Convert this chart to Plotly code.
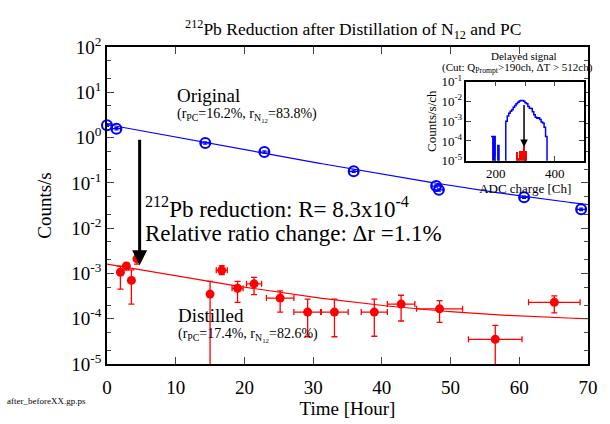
import numpy as np
import plotly.graph_objects as go

# ---------------- data ----------------
orig_t = [0.0, 1.37, 14.3, 22.9, 35.9, 47.9, 48.3, 60.7, 69.0]
orig_rate = [1.88, 1.57, 0.76, 0.48, 0.18, 0.085, 0.070, 0.048, 0.026]
orig_terr = [0.6, 0.6, 0.6, 0.6, 0.6, 0.6, 0.6, 0.6, 0.6]

dist_t = [1.95, 2.82, 3.55, 4.36, 15.0, 16.7, 19.0, 21.4, 25.2, 29.2, 33.1, 38.9, 42.8, 48.4, 56.5, 65.1]
dist_rate = [1.06e-3, 1.45e-3, 7.0e-4, 2.1e-3, 3.5e-4, 1.17e-3, 4.7e-4, 5.9e-4, 2.85e-4,
             1.4e-4, 1.4e-4, 1.4e-4, 2.1e-4, 1.65e-4, 3.5e-5, 2.3e-4]
dist_hi = [1.44e-3, 1.71e-3, 1.2e-3, 2.6e-3, 6.7e-4, 1.49e-3, 6.7e-4, 8.2e-4, 4.1e-4,
           2.7e-4, 2.7e-4, 2.7e-4, 3.3e-4, 2.5e-4, 7.1e-5, 3.2e-4]
dist_lo = [4.5e-4, 1.2e-3, 2.1e-4, 1.6e-3, 1e-7, 9.4e-4, 2.3e-4, 3.4e-4, 1.4e-4,
           4.0e-5, 4.0e-5, 4.1e-5, 8.9e-5, 8.3e-5, 1e-7, 1.34e-4]
dist_terr = [0, 0, 0, 0, 0, 0.8, 0.8, 1.1, 2.0, 2.0, 2.0, 1.9, 2.0, 3.35, 3.9, 3.75]

# fit parameters (A*exp(-t/tau)+C)
orig_fit = dict(A=1.93, tau=15.36, C=0.013)
dist_fit = dict(A=1.52e-3, tau=15.36, C=8.4e-5)

# inset histogram (ADC charge [Ch], Counts/s/ch)
blue_edges = [184, 190, 194, 198, 207, 211, 234, 239, 244, 249, 254, 259, 264, 269, 274, 279, 284,
              289, 294, 299, 304, 309, 314, 319, 324, 329, 334, 339, 344, 349, 354, 359, 364, 369, 374, 379]
blue_vals = [1.7e-4, 1e-7, 1.7e-4, 1e-7, 6e-5, 1e-7, 1.0e-3, 1.8e-3, 2.5e-3, 3.2e-3, 3.8e-3, 5.0e-3,
             6.2e-3, 7.5e-3, 9.0e-3, 1.05e-2, 1.1e-2, 1.1e-2, 1.0e-2, 8.5e-3, 7.5e-3, 5.5e-3, 4.5e-3,
             4.3e-3, 3.0e-3, 2.1e-3, 1.6e-3, 1.4e-3, 1.5e-3, 1.2e-3, 9e-4, 8e-4, 5e-4, 1.7e-4, 1e-7]
red_centers = [273, 279, 285, 291, 297, 303]
red_vals = [3.0e-5, 1.5e-5, 3.3e-5, 3.3e-5, 7.0e-5, 3.3e-5]

main_y_exps = [-5, -4, -3, -2, -1, 0, 1, 2]
inset_y_exps = [-5, -4, -3, -2, -1]

arrow_t = 4.75
arrow_from, arrow_to = 0.96, 1.52e-3
inset_arrow_x = 296
inset_arrow_from, inset_arrow_to = 7.7e-3, 5e-5

FONT = "Liberation Serif"
W, H = 610, 424
L, R, T, B = 107, 21, 47, 51

def px(x, y):
    return (x - L) / (W - L - R), (H - B - y) / (H - T - B)

fig = go.Figure()

tt = np.linspace(0, 70, 200)
fig.add_trace(go.Scatter(x=tt, y=orig_fit["A"] * np.exp(-tt / orig_fit["tau"]) + orig_fit["C"],
                         mode="lines", line=dict(color="#0000ff", width=1.2), hoverinfo="skip"))
fig.add_trace(go.Scatter(x=tt, y=dist_fit["A"] * np.exp(-tt / dist_fit["tau"]) + dist_fit["C"],
                         mode="lines", line=dict(color="#ff0000", width=1.2), hoverinfo="skip"))

fig.add_trace(go.Scatter(
    x=orig_t, y=orig_rate, mode="markers", cliponaxis=False,
    marker=dict(symbol="circle-open", size=10, color="#0000ff", line=dict(width=2)),
    error_x=dict(type="data", array=orig_terr, color="#0000ff", thickness=1.2, width=2),
    error_y=dict(type="percent", value=6, color="#0000ff", thickness=1.2, width=2)))

fig.add_trace(go.Scatter(
    x=dist_t, y=dist_rate, mode="markers",
    marker=dict(symbol="circle", size=9, color="#ff0000"),
    error_x=dict(type="data", array=dist_terr, color="#ff0000", thickness=1.3, width=3),
    error_y=dict(type="data", symmetric=False,
                 array=[h - v for h, v in zip(dist_hi, dist_rate)],
                 arrayminus=[v - l for v, l in zip(dist_rate, dist_lo)],
                 color="#ff0000", thickness=1.3, width=3)))

# inset
fig.add_trace(go.Bar(x=red_centers, y=red_vals, width=6, marker=dict(color="#ff0000", line=dict(width=0)),
                     xaxis="x2", yaxis="y2", base=1e-7))
fig.add_trace(go.Scatter(x=blue_edges, y=blue_vals + [blue_vals[-1]], mode="lines", line_shape="hv",
                         line=dict(color="#0000ff", width=1.5), xaxis="x2", yaxis="y2"))

axis_common = dict(showline=True, linecolor="black", linewidth=1.5, mirror="ticks", ticks="inside",
                   showgrid=False, zeroline=False)

minor_vals = []
for e in range(-5, 2):
    minor_vals += [2 * 10 ** e, 5 * 10 ** e]

def pow_labels(exps):
    return [10.0 ** e for e in exps], ["10<sup>%d</sup>" % e for e in exps]

mv, mt = pow_labels(main_y_exps)
iv, it = pow_labels(inset_y_exps)

fig.update_layout(
    width=W, height=H, margin=dict(l=L, r=R, t=T, b=B),
    paper_bgcolor="white", plot_bgcolor="white", showlegend=False,
    font=dict(family=FONT, color="black"),
    xaxis=dict(**axis_common, range=[0, 70], dtick=10, ticklen=7, ticklabelstandoff=5,
               tickfont=dict(size=19), title=dict(text="Time [Hour]", font=dict(size=19), standoff=1)),
    yaxis=dict(**axis_common, type="log", range=[-5, 2], tickvals=mv, ticktext=mt, ticklen=7,
               tickfont=dict(size=19),
               minor=dict(tickvals=minor_vals, ticks="inside", ticklen=4, showgrid=False),
               title=dict(text="Counts/s", font=dict(size=19), standoff=15)),
    xaxis2=dict(**axis_common, domain=[0.747, 0.992], anchor="y2", range=[100, 500],
                tickvals=[200, 400], ticklen=5, tickfont=dict(size=13),
                minor=dict(tickvals=[100, 300, 500], ticks="inside", ticklen=5),
                title=dict(text="ADC charge [Ch]", font=dict(size=13), standoff=0)),
    yaxis2=dict(**axis_common, domain=[0.641, 0.891], anchor="x2", type="log", range=[-5, -1],
                tickvals=iv, ticktext=it, ticklen=5, tickfont=dict(size=13),
                title=dict(text="Counts/s/ch", font=dict(size=13), standoff=2)),
    bargap=0,
)

ann = []
def txt(text, x, y, size, xanchor="left", yanchor="middle"):
    xp, yp = px(x, y)
    ann.append(dict(text=text, x=xp, y=yp, xref="paper", yref="paper", showarrow=False,
                    xanchor=xanchor, yanchor=yanchor, font=dict(size=size, family=FONT, color="black")))

txt("<sup>212</sup>Pb Reduction after Distillation of N<sub>12</sub> and PC", 354, 29, 17.5, xanchor="center")
txt("Original", 175, 97, 19)
txt("(r<sub>PC</sub>=16.2%, r<sub>N<sub>12</sub></sub>=83.8%)", 175, 117, 14)
txt("<sup>212</sup>Pb reduction: R= 8.3x10<sup>-4</sup>", 143, 212, 23)
txt("Relative ratio change: \u0394r =1.1%", 143, 239, 23)
txt("Distilled", 176, 323, 19)
txt("(r<sub>PC</sub>=17.4%, r<sub>N<sub>12</sub></sub>=82.6%)", 176, 343, 14)
txt("Delayed signal", 525, 56, 11, xanchor="center")
txt("(Cut: Q<sub>Prompt</sub>>190ch, \u0394T > 512ch)", 441, 69, 11)
txt("after_beforeXX.gp.ps", 5, 411, 9)

ann.append(dict(x=arrow_t, y=np.log10(arrow_to), ax=arrow_t, ay=np.log10(arrow_from),
                xref="x", yref="y", axref="x", ayref="y", showarrow=True, text="",
                arrowhead=2, arrowsize=1, arrowwidth=3, arrowcolor="black"))
ann.append(dict(x=inset_arrow_x, y=np.log10(inset_arrow_to), ax=inset_arrow_x, ay=np.log10(inset_arrow_from),
                xref="x2", yref="y2", axref="x2", ayref="y2", showarrow=True, text="",
                arrowhead=2, arrowsize=1, arrowwidth=1.5, arrowcolor="black"))
fig.update_layout(annotations=ann)

fig.write_html("out.html")
